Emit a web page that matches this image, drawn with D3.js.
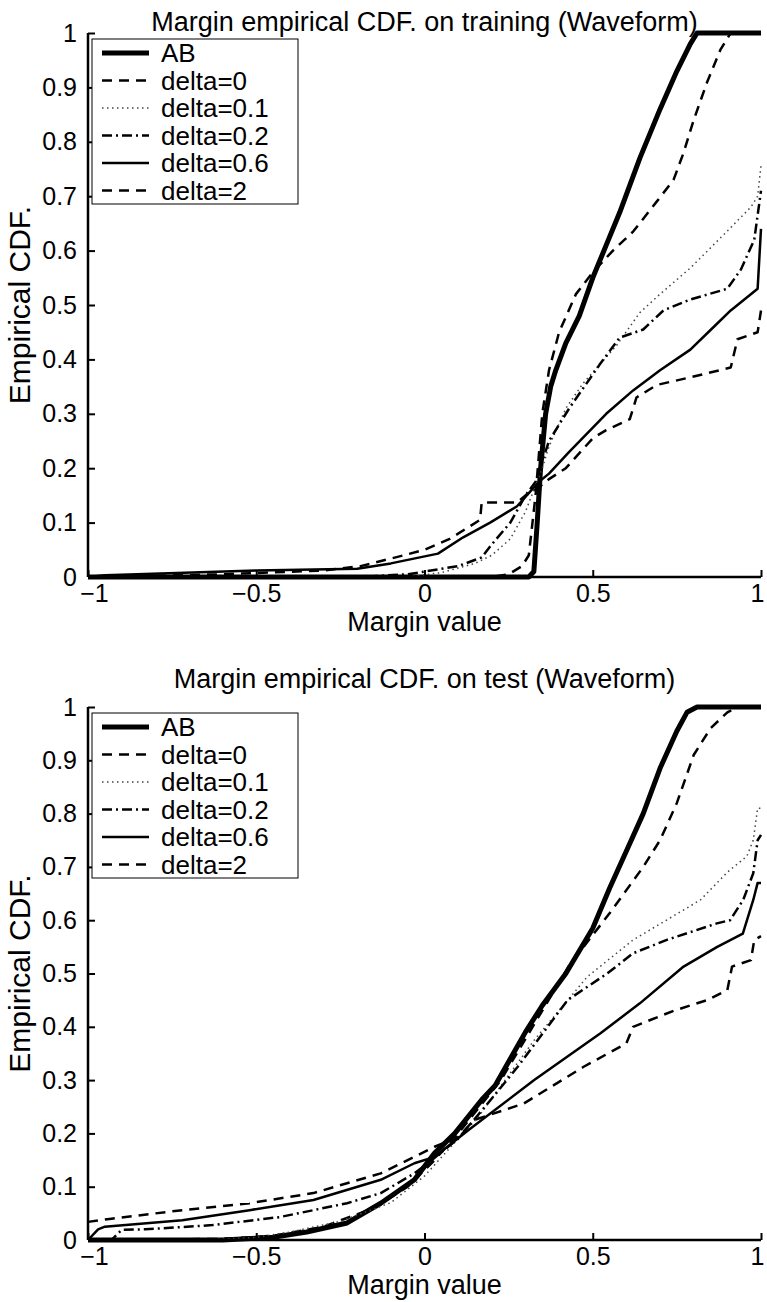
<!DOCTYPE html>
<html lang="en">

<head>
    <meta charset="UTF-8">
    <title>Margin empirical CDF (Waveform)</title>
    <style>
        * {
            margin: 0;
            padding: 0;
        }

        html,
        body {
            overflow: hidden;
            background: #fff;
        }
    </style>
</head>

<body>
    <div id="chart"></div>
    <script src="https://cdn.jsdelivr.net/npm/d3@7"></script>
    <script>
        // legend labels, one per series
        const seriesNames = ['AB', 'delta=0', 'delta=0.1', 'delta=0.2', 'delta=0.6', 'delta=2']
        const xTicks = [-1, -0.5, 0, 0.5, 1]
        const yTicks = [0, 0.1, 0.2, 0.3, 0.4, 0.5, 0.6, 0.7, 0.8, 0.9, 1]

        // training set, [margin, cdf]
        const trainAB = [[-1, 0], [0.31, 0], [0.325, 0.01], [0.335, 0.1], [0.345, 0.2], [0.36, 0.3], [0.375, 0.35],
            [0.39, 0.38], [0.42, 0.43], [0.46, 0.48], [0.5, 0.55], [0.54, 0.61], [0.58, 0.67], [0.64, 0.77],
            [0.7, 0.86], [0.75, 0.93], [0.79, 0.98], [0.81, 1], [1, 1]]
        const trainD0 = [[-1, 0], [0.2, 0], [0.25, 0.005], [0.29, 0.02], [0.31, 0.04], [0.33, 0.15], [0.35, 0.3],
            [0.37, 0.38], [0.4, 0.45], [0.45, 0.52], [0.5, 0.56], [0.56, 0.6], [0.62, 0.635], [0.69, 0.69],
            [0.74, 0.73], [0.77, 0.78], [0.8, 0.84], [0.84, 0.91], [0.88, 0.97], [0.91, 1], [1, 1]]
        const trainD01 = [[-1, 0], [-0.05, 0], [0.05, 0.008], [0.15, 0.025], [0.2, 0.04], [0.255, 0.07], [0.3, 0.12],
            [0.35, 0.2], [0.37, 0.24], [0.42, 0.31], [0.47, 0.355], [0.52, 0.39], [0.57, 0.425], [0.64, 0.486],
            [0.7, 0.52], [0.79, 0.568], [0.9, 0.636], [0.97, 0.68], [0.99, 0.7], [1, 0.756]]
        const trainD02 = [[-1, 0], [-0.2, 0], [-0.05, 0.005], [0.1, 0.02], [0.17, 0.036], [0.2, 0.06], [0.255, 0.1],
            [0.3, 0.15], [0.33, 0.175], [0.37, 0.25], [0.43, 0.31], [0.52, 0.39], [0.58, 0.44], [0.65, 0.455],
            [0.71, 0.49], [0.79, 0.51], [0.9, 0.53], [0.94, 0.565], [0.98, 0.62], [1, 0.71]]
        const trainD06 = [[-1, 0], [-0.95, 0.003], [-0.5, 0.012], [-0.2, 0.015], [-0.1, 0.025], [0.04, 0.043],
            [0.115, 0.073], [0.195, 0.1], [0.275, 0.13], [0.34, 0.175], [0.37, 0.19], [0.43, 0.23], [0.54, 0.3],
            [0.62, 0.343], [0.7, 0.38], [0.79, 0.418], [0.86, 0.46], [0.91, 0.49], [0.99, 0.53], [1, 0.64]]
        const trainD2 = [[-1, 0], [-0.6, 0.005], [-0.3, 0.012], [-0.19, 0.02], [-0.08, 0.037], [0, 0.05],
            [0.075, 0.07], [0.165, 0.105], [0.17, 0.137], [0.275, 0.137], [0.3, 0.15], [0.33, 0.16], [0.37, 0.18],
            [0.42, 0.2], [0.5, 0.255], [0.54, 0.27], [0.61, 0.29], [0.63, 0.33], [0.69, 0.353], [0.79, 0.367],
            [0.91, 0.385], [0.93, 0.437], [0.99, 0.45], [1, 0.49]]

        // test set
        const testAB = [[-1, 0], [-0.6, 0], [-0.45, 0.005], [-0.35, 0.015], [-0.23, 0.032], [-0.13, 0.069],
            [-0.03, 0.113], [0.03, 0.163], [0.09, 0.2], [0.17, 0.263], [0.21, 0.29], [0.3, 0.39], [0.35, 0.44],
            [0.42, 0.5], [0.5, 0.585], [0.55, 0.66], [0.6, 0.73], [0.65, 0.8], [0.7, 0.885], [0.75, 0.955],
            [0.78, 0.99], [0.81, 1], [1, 1]]
        const testD0 = [[-1, 0], [-0.6, 0.002], [-0.45, 0.008], [-0.3, 0.025], [-0.15, 0.06], [-0.05, 0.1],
            [0.03, 0.15], [0.1, 0.2], [0.227, 0.3], [0.43, 0.515], [0.55, 0.613], [0.65, 0.7], [0.7, 0.75],
            [0.75, 0.82], [0.8, 0.91], [0.85, 0.96], [0.9, 0.99], [0.93, 1], [1, 1]]
        const testD01 = [[-1, 0], [-0.65, 0], [-0.5, 0.005], [-0.4, 0.015], [-0.25, 0.035], [-0.1, 0.07], [0, 0.12],
            [0.1, 0.19], [0.16, 0.231], [0.326, 0.375], [0.484, 0.494], [0.62, 0.563], [0.82, 0.638], [0.9, 0.69],
            [0.958, 0.72], [0.977, 0.75], [0.99, 0.81], [1, 0.81]]
        const testD02 = [[-1, 0], [-0.93, 0], [-0.9, 0.019], [-0.83, 0.02], [-0.63, 0.028], [-0.43, 0.043],
            [-0.23, 0.069], [-0.13, 0.088], [-0.03, 0.125], [0.01, 0.144], [0.1, 0.19], [0.206, 0.27], [0.277, 0.325],
            [0.425, 0.45], [0.543, 0.5], [0.62, 0.538], [0.72, 0.563], [0.869, 0.594], [0.908, 0.6], [0.947, 0.638],
            [0.977, 0.688], [0.99, 0.75], [1, 0.76]]
        const testD06 = [[-1, 0], [-0.97, 0.02], [-0.95, 0.025], [-0.72, 0.037], [-0.52, 0.056], [-0.33, 0.075],
            [-0.13, 0.113], [-0.03, 0.144], [0.03, 0.156], [0.13, 0.206], [0.326, 0.3], [0.523, 0.388], [0.64, 0.444],
            [0.77, 0.513], [0.87, 0.55], [0.946, 0.575], [0.977, 0.638], [0.99, 0.67], [1, 0.67]]
        const testD2 = [[-1, 0.034], [-0.93, 0.04], [-0.72, 0.056], [-0.52, 0.069], [-0.33, 0.088], [-0.13, 0.125],
            [-0.03, 0.156], [0.03, 0.175], [0.1, 0.193], [0.147, 0.225], [0.295, 0.256], [0.473, 0.325], [0.6, 0.369],
            [0.62, 0.4], [0.74, 0.43], [0.84, 0.45], [0.9, 0.469], [0.914, 0.513], [0.97, 0.525], [0.98, 0.563],
            [1, 0.57]]

        const panels = [
            { title: 'Margin empirical CDF. on training (Waveform)', series: [trainAB, trainD0, trainD01, trainD02, trainD06, trainD2], top: 33, bottom: 577, titleY: 31 },
            { title: 'Margin empirical CDF. on test (Waveform)', series: [testAB, testD0, testD01, testD02, testD06, testD2], top: 707, bottom: 1240, titleY: 688 }
        ]

        // matlab-ish line styles
        const styles = [
            { width: 5, dash: null },
            { width: 2.5, dash: '10 7' },
            { width: 1.5, dash: '1.5 3.5', color: '#444' },
            { width: 2.5, dash: '10 4 2 4' },
            { width: 2.5, dash: null },
            { width: 2.5, dash: '10 7' }
        ]

        function drawChart() {
            const width = 767
            const height = 1302
            const font = '"Liberation Sans", Arial, Helvetica, sans-serif'

            const svg = d3.select('#chart')
                .append('svg')
                .attr('width', width)
                .attr('height', height)
                .style('background-color', '#fff')
                .style('font-family', font)

            const left = 88
            const right = 761

            panels.forEach(p => {
                const x = d3.scaleLinear().domain([-1, 1]).range([left, right])
                const y = d3.scaleLinear().domain([0, 1]).range([p.bottom, p.top])

                const g = svg.append('g')

                g.append('text')
                    .attr('x', (left + right) / 2)
                    .attr('y', p.titleY)
                    .attr('text-anchor', 'middle')
                    .style('font-size', '27px')
                    .text(p.title)

                const line = d3.line()
                    .x(d => x(d[0]))
                    .y(d => y(d[1]))

                // draw curves
                g.selectAll('path.curve')
                    .data(p.series)
                    .join('path')
                    .attr('class', 'curve')
                    .attr('d', d => line(d))
                    .attr('fill', 'none')
                    .attr('stroke', (d, i) => styles[i].color || '#000')
                    .attr('stroke-width', (d, i) => styles[i].width)
                    .attr('stroke-dasharray', (d, i) => styles[i].dash)
                    .attr('stroke-linejoin', 'round')

                // axes, ticks inward
                const xAxis = d3.axisBottom(x)
                    .tickValues(xTicks)
                    .tickSize(-7)
                    .tickPadding(10)
                    .tickFormat(d => d3.format('')(d).replace('-', '\u2013'))
                const yAxis = d3.axisLeft(y)
                    .tickValues(yTicks)
                    .tickSize(-7)
                    .tickPadding(14)
                    .tickFormat(d3.format(''))

                const gx = g.append('g')
                    .attr('transform', `translate(0, ${y(0)})`)
                    .call(xAxis)
                const gy = g.append('g')
                    .attr('transform', `translate(${left}, 0)`)
                    .call(yAxis)

                ;[gx, gy].forEach(a => {
                    a.select('.domain').attr('stroke-width', 2.5)
                    a.selectAll('.tick line').attr('stroke-width', 2)
                    a.selectAll('.tick text')
                        .style('font-family', font)
                        .style('font-size', '25px')
                        .attr('fill', '#000')
                })
                gx.select('.domain').attr('d', `M${left},0H${right}`)
                gy.select('.domain').attr('d', `M0,${y(0)}V${y(1)}`)
                gy.selectAll('.tick text').attr('dx', 3)
                // nudge end labels so they stay clear of the y labels and the page edge
                gx.selectAll('.tick text')
                    .attr('dy', '0.6em')
                    .attr('dx', d => d === 1 ? -4 : d === -1 ? 6 : 0)

                g.append('text')
                    .attr('x', (left + right) / 2)
                    .attr('y', y(0) + 54)
                    .attr('text-anchor', 'middle')
                    .style('font-size', '27px')
                    .text('Margin value')

                g.append('text')
                    .attr('transform', `translate(30, ${(y(0) + y(1)) / 2}) rotate(-90)`)
                    .attr('text-anchor', 'middle')
                    .style('font-size', '30px')
                    .text('Empirical CDF.')

                // legend box
                const lx = left + 4
                const ly = p.top + 6
                const rowH = 27.5
                const lg = g.append('g').attr('transform', `translate(${lx}, ${ly})`)
                lg.append('rect')
                    .attr('width', 206)
                    .attr('height', 165)
                    .attr('fill', '#fff')
                    .attr('stroke', '#000')
                    .attr('stroke-width', 1)

                const rows = lg.selectAll('g.row')
                    .data(seriesNames)
                    .join('g')
                    .attr('class', 'row')
                    .attr('transform', (d, i) => `translate(0, ${14 + i * rowH})`)

                rows.append('line')
                    .attr('x1', 10)
                    .attr('x2', 57)
                    .attr('stroke', (d, i) => styles[i].color || '#000')
                    .attr('stroke-width', (d, i) => styles[i].width)
                    .attr('stroke-dasharray', (d, i) => styles[i].dash)

                rows.append('text')
                    .attr('x', 69)
                    .attr('dy', '0.35em')
                    .style('font-size', '26px')
                    .text(d => d)
            })
        }

        drawChart()
    </script>
</body>

</html>
